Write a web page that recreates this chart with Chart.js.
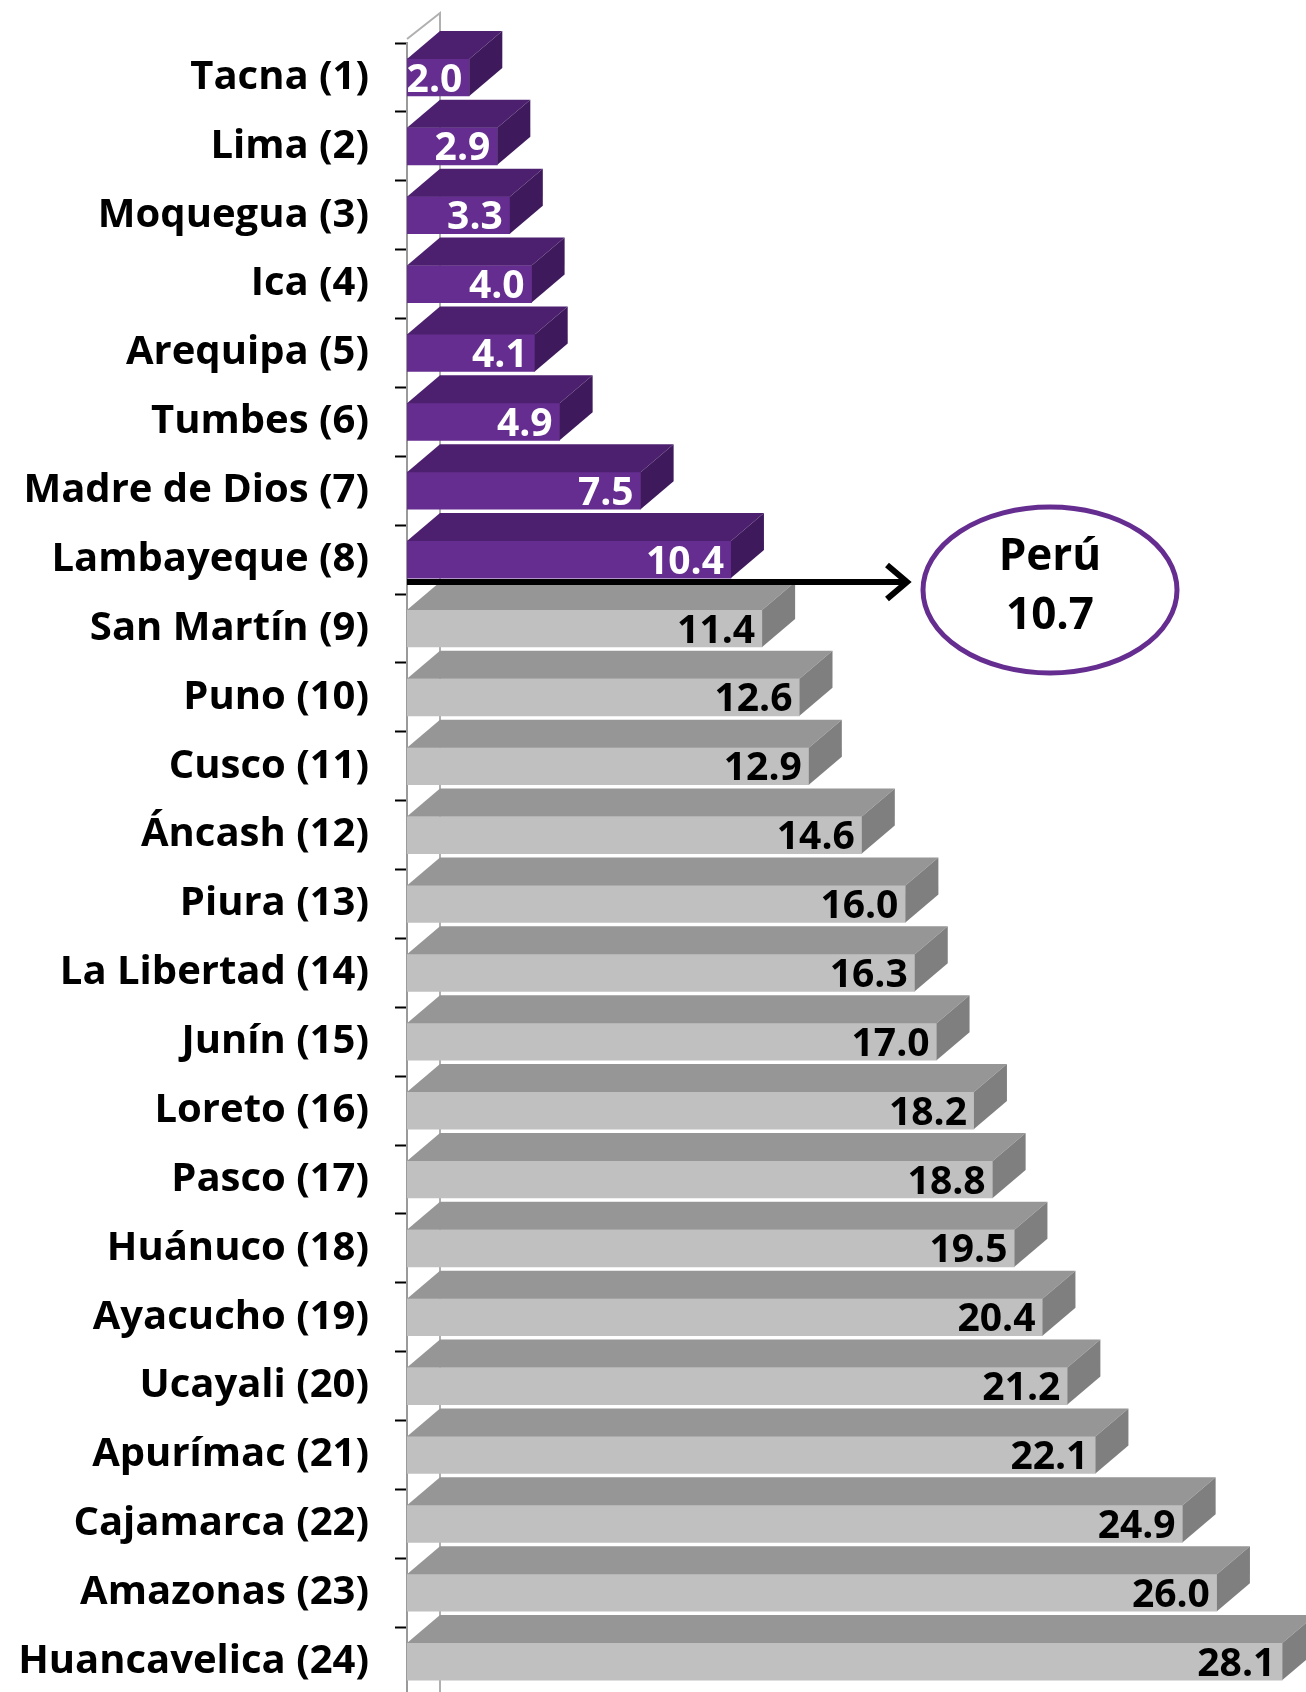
<!DOCTYPE html>
<html>
<head>
<meta charset="utf-8">
<script src="https://cdn.jsdelivr.net/npm/chart.js@4"></script>
<style>
  html, body { margin: 0; padding: 0; background: #fff; overflow: hidden; }
  #wrap { width: 1306px; height: 1696px; }
</style>
</head>
<body>
<div id="wrap"><canvas id="grafico" width="1306" height="1696"></canvas></div>
<script>
// datos del gráfico
const regiones = ['Tacna (1)', 'Lima (2)', 'Moquegua (3)', 'Ica (4)', 'Arequipa (5)', 'Tumbes (6)',
  'Madre de Dios (7)', 'Lambayeque (8)', 'San Martín (9)', 'Puno (10)', 'Cusco (11)', 'Áncash (12)',
  'Piura (13)', 'La Libertad (14)', 'Junín (15)', 'Loreto (16)', 'Pasco (17)', 'Huánuco (18)',
  'Ayacucho (19)', 'Ucayali (20)', 'Apurímac (21)', 'Cajamarca (22)', 'Amazonas (23)', 'Huancavelica (24)'];
const valores = [2.0, 2.9, 3.3, 4.0, 4.1, 4.9, 7.5, 10.4, 11.4, 12.6, 12.9, 14.6,
  16.0, 16.3, 17.0, 18.2, 18.8, 19.5, 20.4, 21.2, 22.1, 24.9, 26.0, 28.1];
const promedioPeru = 10.7;
const etiquetaPeru = ['Perú', '10.7'];

// colores (frente, techo, costado)
const morado = ['#662d91', '#4c206f', '#3e195c'];
const gris = ['#c0c0c0', '#969696', '#7f7f7f'];
const paleta = valores.map(v => v < promedioPeru ? morado : gris);

const DX = 33, DY = 28; // profundidad 3D

// caras de arriba y del costado + etiquetas
const barras3D = {
  id: 'barras3D',
  beforeDatasetsDraw(chart) {
    const ctx = chart.ctx;
    const a = chart.chartArea;
    ctx.save();
    ctx.strokeStyle = '#b0b0b0';
    ctx.lineWidth = 2;
    ctx.beginPath();
    ctx.moveTo(a.left, a.top - 4);
    ctx.lineTo(a.left + DX, a.top - 30);
    ctx.lineTo(a.left + DX, a.bottom);
    ctx.stroke();
    ctx.restore();
  },
  afterDatasetsDraw(chart) {
    const ctx = chart.ctx;
    const barras = chart.getDatasetMeta(0).data;
    ctx.save();
    barras.forEach((b, i) => {
      const arriba = b.y - b.height / 2;
      const abajo = b.y + b.height / 2;
      // techo
      ctx.fillStyle = paleta[i][1];
      ctx.beginPath();
      ctx.moveTo(b.base, arriba);
      ctx.lineTo(b.x, arriba);
      ctx.lineTo(b.x + DX, arriba - DY);
      ctx.lineTo(b.base + DX, arriba - DY);
      ctx.closePath();
      ctx.fill();
      // costado
      ctx.fillStyle = paleta[i][2];
      ctx.beginPath();
      ctx.moveTo(b.x, arriba);
      ctx.lineTo(b.x + DX, arriba - DY);
      ctx.lineTo(b.x + DX, abajo - DY);
      ctx.lineTo(b.x, abajo);
      ctx.closePath();
      ctx.fill();
    });
    // valores
    ctx.font = 'bold 39px "Open Sans", sans-serif';
    ctx.textAlign = 'right';
    ctx.textBaseline = 'middle';
    barras.forEach((b, i) => {
      ctx.fillStyle = valores[i] < promedioPeru ? '#ffffff' : '#000000';
      ctx.fillText(valores[i].toFixed(1), b.x - 7, b.y + 3);
    });
    ctx.restore();
  },
  afterDraw(chart) {
    const ctx = chart.ctx;
    const a = chart.chartArea;
    const barras = chart.getDatasetMeta(0).data;
    const ultimo = valores.findIndex(v => v >= promedioPeru);
    const b1 = barras[ultimo - 1], b2 = barras[ultimo];
    const y = ((b1.y + b1.height / 2) + (b2.y - b2.height / 2 - DY)) / 2 + 2;
    const xFin = 907;
    ctx.save();
    // flecha
    ctx.strokeStyle = '#000';
    ctx.lineWidth = 6;
    ctx.beginPath();
    ctx.moveTo(a.left, y);
    ctx.lineTo(xFin - 3, y);
    ctx.stroke();
    ctx.beginPath();
    ctx.moveTo(xFin - 20, y - 17);
    ctx.lineTo(xFin, y);
    ctx.lineTo(xFin - 20, y + 17);
    ctx.stroke();
    // elipse Perú
    ctx.strokeStyle = '#662d91';
    ctx.lineWidth = 5;
    ctx.beginPath();
    ctx.ellipse(1050, 590, 127, 83, 0, 0, Math.PI * 2);
    ctx.stroke();
    ctx.fillStyle = '#000';
    ctx.font = 'bold 44px "Open Sans", sans-serif';
    ctx.textAlign = 'center';
    ctx.textBaseline = 'middle';
    ctx.fillText(etiquetaPeru[0], 1050, 557);
    ctx.fillText(etiquetaPeru[1], 1050, 616);
    ctx.restore();
  }
};

const ctx = document.getElementById('grafico').getContext('2d');
new Chart(ctx, {
  type: 'bar',
  data: {
    labels: regiones,
    datasets: [{
      data: valores,
      backgroundColor: paleta.map(p => p[0]),
      borderWidth: 0,
      barThickness: 37
    }]
  },
  options: {
    indexAxis: 'y',
    responsive: false,
    animation: false,
    devicePixelRatio: 1,
    layout: { padding: { top: 43, right: 0, bottom: 0, left: 0 } },
    plugins: {
      legend: { display: false },
      tooltip: { enabled: false }
    },
    scales: {
      x: { display: false, min: 0, max: 28.86 },
      y: {
        afterFit(scale) {
          scale.width = 407;
          scale.paddingTop = 0;
          scale.paddingBottom = 0;
        },
        grid: {
          display: true,
          drawOnChartArea: false,
          drawTicks: true,
          tickLength: 12,
          tickColor: '#000',
          tickWidth: 2
        },
        border: { display: true, color: '#9a9a9a', width: 2 },
        ticks: {
          color: '#000',
          padding: 26,
          font: { family: '"Open Sans", sans-serif', size: 40, weight: 'bold' }
        }
      }
    }
  },
  plugins: [barras3D]
});
</script>
</body>
</html>
